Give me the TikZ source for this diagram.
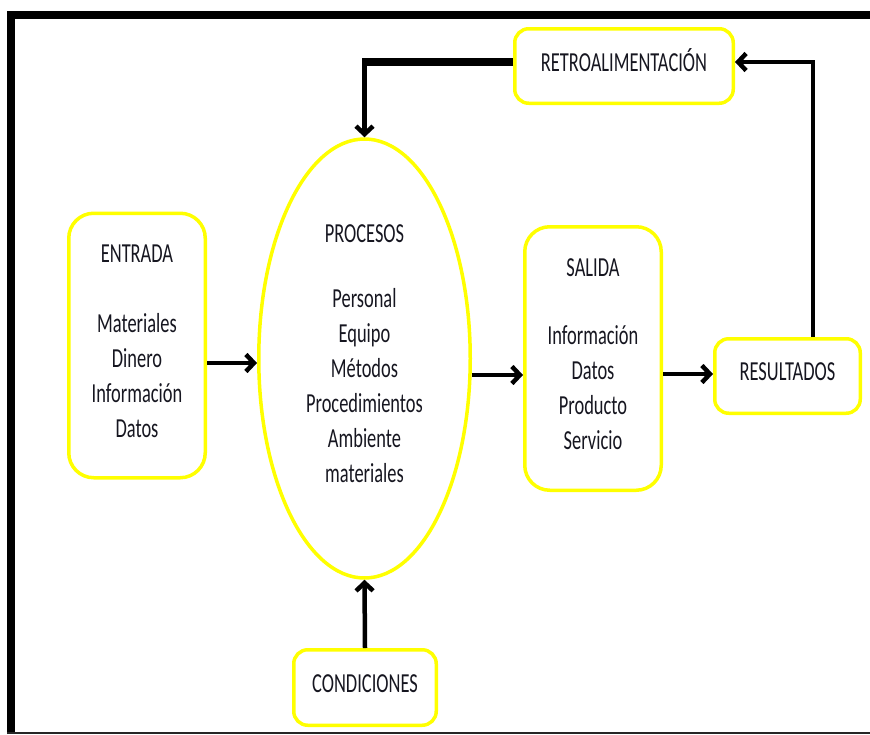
\documentclass[tikz,border=0pt]{standalone}
\usepackage{fontspec}
\newfontfamily\boxfont[FakeStretch=0.67]{Carlito}
\usetikzlibrary{shapes.geometric,arrows.meta}
\definecolor{boxyellow}{RGB}{255,255,0}
\definecolor{ink}{RGB}{22,22,32}
\begin{document}
\begin{tikzpicture}[x=1pt,y=-1pt,
  lbl/.style={font=\boxfont\fontsize{27.5}{35}\selectfont, text=ink, align=center, text depth=8pt},
  roundbox/.style={lbl, draw=boxyellow, line width=3.5pt, rounded corners=#1, fill=white, inner sep=0pt},
  roundbox/.default=14pt,
  oval/.style={lbl, ellipse, draw=boxyellow, line width=3.5pt, inner sep=0pt, text depth=10pt},
  arr/.style={line width=4.5pt, -{Straight Barb[length=8pt,width=17pt]}},
  frameline/.style={line width=8pt, black},
]
\useasboundingbox (0,0) rectangle (870,734);

% outer frame
\draw[frameline] (11,734) -- (11,15) -- (870,15);
\draw[line width=2pt, black!85] (7,733) -- (870,733);

% stages
\node[roundbox=25pt, minimum width=136.5pt, minimum height=264.5pt] (entrada) at (137,345.5)
  {ENTRADA\\[35pt]Materiales\\Dinero\\Información\\Datos};
\node[oval, minimum width=211.5pt, minimum height=439pt] (procesos) at (364.5,358.5)
  {PROCESOS\\[30pt]Personal\\Equipo\\Métodos\\Procedimientos\\Ambiente\\materiales};
\node[roundbox=25pt, minimum width=136.5pt, minimum height=263.5pt] (salida) at (593,358.5)
  {SALIDA\\[33pt]Información\\Datos\\Producto\\Servicio};
\node[roundbox, minimum width=145.5pt, minimum height=74.5pt] (resultados) at (787.5,376)
  {RESULTADOS};
\node[roundbox, minimum width=218.5pt, minimum height=74.5pt, text depth=12pt] (retro) at (624,66)
  {RETROALIMENTACIÓN};
\node[roundbox, minimum width=142.5pt, minimum height=75.5pt] (condiciones) at (365,687.5)
  {CONDICIONES};

% flow connectors
\draw[arr] (entrada.east |- 0,363) -- (procesos.west |- 0,363);
\draw[arr] (procesos.east |- 0,375) -- (salida.west |- 0,375);
\draw[arr] (salida.east |- 0,374) -- (resultados.west |- 0,374);
\coordinate (upturn) at (813,62);
\draw[arr] (resultados.north -| upturn) -- (upturn) -- (retro.east |- upturn);
\coordinate (downturn) at (procesos.north |- upturn);
\draw[line width=8.5pt] (retro.west |- downturn) -- ([xshift=-2.25pt]downturn);
\draw[arr] ([yshift=-4.25pt]downturn) -- (procesos.north);
\draw[arr] (condiciones.north) -- (procesos.south);
\end{tikzpicture}
\end{document}
